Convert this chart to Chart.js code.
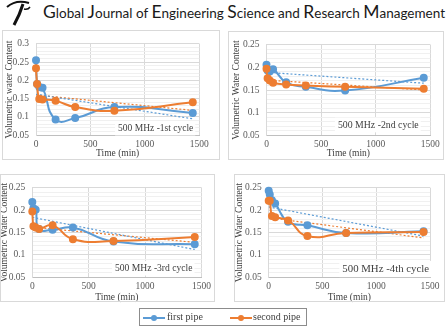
<!DOCTYPE html>
<html>
<head>
<meta charset="utf-8">
<script src="https://cdn.jsdelivr.net/npm/chart.js@4.4.1/dist/chart.umd.min.js"></script>
<style>
html, body { margin: 0; padding: 0; background: #fff; }
#page { position: relative; width: 446px; height: 327px; overflow: hidden; background: #fff; }
#page canvas { position: absolute; }
.panel { position: absolute; border: 1px solid #d9d9d9; box-sizing: border-box; pointer-events: none; }
#logo { position: absolute; left: 3px; top: 0; }
#header { position: absolute; left: 43px; top: 2px; white-space: nowrap; font-family: Lato, "Open Sans", sans-serif; color: #1a1a1a; font-size: 13.5px; line-height: 20px; }
#header b { font-weight: normal; font-size: 17.5px; }
#legend { position: absolute; left: 139px; top: 308px; width: 168px; height: 18px; box-sizing: border-box; border: 1px solid #8c8c8c; font-family: "Liberation Serif", serif; font-size: 10px; color: #404040; }
#legend .sw { position: absolute; top: 8px; width: 22px; height: 2px; }
#legend .sw i { position: absolute; left: 8px; top: -2px; width: 6px; height: 6px; border-radius: 50%; background: inherit; }
#legend .tx { position: absolute; top: 2px; line-height: 12px; }
</style>
</head>
<body>
<div id="page">
  <svg id="logo" width="30" height="26" viewBox="0 0 30 26">
    <path d="M4 7 Q13 -1 26 3" stroke="#111" stroke-width="2" fill="none"/>
    <path d="M20 4 Q17 14 11 25" stroke="#111" stroke-width="3" fill="none"/>
    <path d="M21 9 Q25 10 27 7" stroke="#111" stroke-width="1.5" fill="none"/>
  </svg>
  <div id="header"><b>G</b>lobal <b>J</b>ournal of <b>E</b>ngineering <b>S</b>cience and <b>R</b>esearch <b>M</b>anagement</div>
  <canvas id="c1"></canvas>
  <canvas id="c2"></canvas>
  <canvas id="c3"></canvas>
  <canvas id="c4"></canvas>
  <div class="panel" style="left:2px;top:30px;width:218px;height:130px"></div>
  <div class="panel" style="left:228px;top:31px;width:216px;height:129px"></div>
  <div class="panel" style="left:0px;top:174px;width:215px;height:128px"></div>
  <div class="panel" style="left:234px;top:174px;width:211px;height:128px"></div>
  <div id="legend"></div>
</div>
<script>
// valores
const timeMin = [0, 10, 30, 60, 180, 360, 720, 1440];
const trendTime = [0, 1440];
const seriesNames = ['first pipe', 'second pipe'];
const cycleNames = ['500 MHz -1st cycle', '500 MHz -2nd cycle', '500 MHz -3rd cycle', '500 MHz -4th cycle'];
const yTitles = ['Volumetric water Content', 'Volumetric Water Content', 'Volumetric Water Content', 'Volumetric Water Content'];
const xTitle = 'Time (min)';
const yMin = 0.05;
const yMaxes = [0.3, 0.25, 0.25, 0.25];

const firstPipe1 = [0.255, 0.19, 0.182, 0.18, 0.093, 0.097, 0.127, 0.111];
const secondPipe1 = [0.233, 0.19, 0.149, 0.148, 0.144, 0.127, 0.117, 0.14];
const firstTrend1 = [0.162, 0.095];
const secondTrend1 = [0.16, 0.118];

const firstPipe2 = [0.206, 0.193, 0.191, 0.196, 0.167, 0.157, 0.149, 0.177];
const secondPipe2 = [0.197, 0.176, 0.171, 0.166, 0.162, 0.16, 0.157, 0.153];
const firstTrend2 = [0.189, 0.165];
const secondTrend2 = [0.172, 0.15];

const firstPipe3 = [0.218, 0.204, 0.201, 0.158, 0.156, 0.161, 0.13, 0.124];
const secondPipe3 = [0.197, 0.164, 0.161, 0.158, 0.166, 0.135, 0.131, 0.14];
const firstTrend3 = [0.184, 0.112];
const secondTrend3 = [0.162, 0.128];

const firstPipe4 = [0.243, 0.235, 0.222, 0.215, 0.174, 0.166, 0.149, 0.153];
const secondPipe4 = [0.221, 0.221, 0.187, 0.184, 0.177, 0.142, 0.149, 0.151];
const firstTrend4 = [0.207, 0.142];
const secondTrend4 = [0.183, 0.138];

const BLUE = '#5b9bd5';
const ORANGE = '#ed7d31';
const FONT = '"Liberation Serif", "Times New Roman", serif';

// posiciones de cada panel (canvas y área del gráfico)
const layouts = [
    { id: 'c1', cx: 4, cy: 31, cw: 215, ch: 128, l: 36, t: 37.3, r: 199.3, b: 135.3, gap: 6, dy: 7, size: 9.5 },
    { id: 'c2', cx: 231, cy: 32, cw: 212, ch: 127, l: 266.5, t: 37.5, r: 430.3, b: 135.3, gap: 11.6, dy: 10.3, size: 9.8 },
    { id: 'c3', cx: -1, cy: 175, cw: 215, ch: 128, l: 32.3, t: 180, r: 203.3, b: 277.3, gap: 9, dy: 9, size: 9.6 },
    { id: 'c4', cx: 234, cy: 175, cw: 210, ch: 128, l: 268.7, t: 180.7, r: 430, b: 277.3, gap: 1, dy: 8.3, size: 10.8 }
];

const cycleLabelPlugin = {
    id: 'cycleLabel',
    beforeDatasetsDraw(chart, args, opts) {
        const { ctx, chartArea } = chart;
        ctx.save();
        ctx.font = opts.size + 'px ' + FONT;
        const w = ctx.measureText(opts.text).width;
        const xr = chartArea.right - opts.gap;
        const yc = chartArea.bottom - opts.dy;
        ctx.fillStyle = '#fff';
        ctx.fillRect(xr - w - 3, yc - opts.size * 0.75, w + 5, opts.size * 1.5);
        ctx.fillStyle = '#404040';
        ctx.textAlign = 'right';
        ctx.textBaseline = 'middle';
        ctx.fillText(opts.text, xr, yc);
        ctx.restore();
    }
};

function points(xs, ys) {
    return xs.map((x, i) => ({ x: x, y: ys[i] }));
}

function createCycleChart(idx, first, second, firstTrend, secondTrend) {
    const g = layouts[idx];
    const canvas = document.getElementById(g.id);
    canvas.width = g.cw;
    canvas.height = g.ch;
    canvas.style.left = g.cx + 'px';
    canvas.style.top = g.cy + 'px';

    return new Chart(canvas.getContext('2d'), {
        type: 'line',
        data: {
            datasets: [
                {
                    label: seriesNames[0],
                    data: points(timeMin, first),
                    borderColor: BLUE,
                    backgroundColor: BLUE,
                    borderWidth: 2,
                    pointRadius: 3,
                    tension: 0.5,
                    clip: false,
                    order: 2
                },
                {
                    label: seriesNames[1],
                    data: points(timeMin, second),
                    borderColor: ORANGE,
                    backgroundColor: ORANGE,
                    borderWidth: 2,
                    pointRadius: 3,
                    tension: 0.5,
                    clip: false,
                    order: 1
                },
                {
                    label: 'trend ' + seriesNames[0],
                    data: points(trendTime, firstTrend),
                    borderColor: BLUE,
                    borderWidth: 1.2,
                    borderDash: [2, 2],
                    pointRadius: 0,
                    order: 3
                },
                {
                    label: 'trend ' + seriesNames[1],
                    data: points(trendTime, secondTrend),
                    borderColor: ORANGE,
                    borderWidth: 1.2,
                    borderDash: [2, 2],
                    pointRadius: 0,
                    order: 3
                }
            ]
        },
        options: {
            responsive: false,
            animation: false,
            events: [],
            layout: {
                padding: { left: 0, top: g.t - g.cy, right: g.cx + g.cw - g.r, bottom: 0 }
            },
            plugins: {
                legend: { display: false },
                tooltip: { enabled: false },
                cycleLabel: { text: cycleNames[idx], gap: g.gap, dy: g.dy, size: g.size }
            },
            scales: {
                x: {
                    type: 'linear',
                    min: 0,
                    max: 1500,
                    ticks: {
                        stepSize: 500,
                        padding: 3,
                        color: '#595959',
                        font: { family: FONT, size: 9.5 },
                        maxRotation: 0,
                        callback: (v) => String(v)
                    },
                    grid: { color: '#d9d9d9', drawTicks: false },
                    border: { color: '#bfbfbf' },
                    title: { display: true, text: xTitle, color: '#404040', padding: 0, font: { family: FONT, size: 9.5, lineHeight: 1.25 } },
                    afterFit(scale) { scale.height = g.cy + g.ch - g.b; }
                },
                y: {
                    min: yMin,
                    max: yMaxes[idx],
                    ticks: {
                        stepSize: 0.01,
                        autoSkip: false,
                        padding: 7,
                        color: '#595959',
                        font: { family: FONT, size: 9.5 },
                        callback: (v) => Math.round(v * 100) % 5 === 0 ? String(Math.round(v * 100) / 100) : ''
                    },
                    grid: {
                        drawTicks: false,
                        color: (c) => Math.round(c.tick.value * 100) % 5 === 0 ? '#d9d9d9' : '#f0f0f0'
                    },
                    border: { color: '#d9d9d9' },
                    title: { display: true, text: yTitles[idx], color: '#404040', padding: 0, font: { family: FONT, size: 9.5, lineHeight: 1.25 } },
                    afterFit(scale) { scale.width = g.l - g.cx; }
                }
            }
        },
        plugins: [cycleLabelPlugin]
    });
}

createCycleChart(0, firstPipe1, secondPipe1, firstTrend1, secondTrend1);
createCycleChart(1, firstPipe2, secondPipe2, firstTrend2, secondTrend2);
createCycleChart(2, firstPipe3, secondPipe3, firstTrend3, secondTrend3);
createCycleChart(3, firstPipe4, secondPipe4, firstTrend4, secondTrend4);

// leyenda común
const legend = document.getElementById('legend');
[[BLUE, 3, 27], [ORANGE, 90, 113]].forEach(([color, swX, txX], i) => {
    const sw = document.createElement('span');
    sw.className = 'sw';
    sw.style.left = swX + 'px';
    sw.style.background = color;
    sw.appendChild(document.createElement('i'));
    legend.appendChild(sw);
    const tx = document.createElement('span');
    tx.className = 'tx';
    tx.style.left = txX + 'px';
    tx.textContent = seriesNames[i];
    legend.appendChild(tx);
});

// ajustar el encabezado al ancho de la figura
const header = document.getElementById('header');
const hw = header.getBoundingClientRect().width;
header.style.transformOrigin = '0 0';
header.style.transform = 'scaleX(' + (402 / hw) + ')';
</script>
</body>
</html>
